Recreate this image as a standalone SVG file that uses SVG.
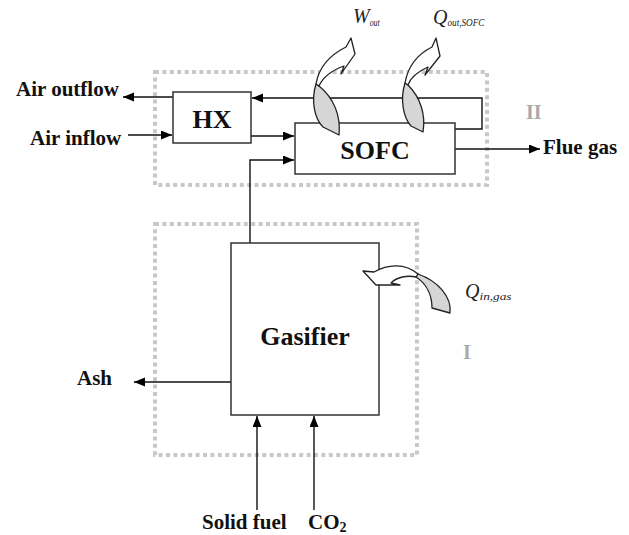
<svg xmlns="http://www.w3.org/2000/svg" width="629" height="535" viewBox="0 0 629 535">
<defs>
<marker id="ah" markerUnits="userSpaceOnUse" markerWidth="12" markerHeight="10" refX="11" refY="4.5" orient="auto">
<path d="M0,0 L11,4.5 L0,9 Z" fill="#000"/>
</marker>
<style>
.box{fill:#fff;stroke:#333;stroke-width:1.5}
.zone{fill:none;stroke:#c8c8c8;stroke-width:4;stroke-dasharray:4 3.4}
.ln{fill:none;stroke:#111;stroke-width:1.4}
.lbl{font-family:"Liberation Serif","Times New Roman",serif;font-weight:bold;font-size:21px;fill:#111}
.big{font-family:"Liberation Serif","Times New Roman",serif;font-weight:bold;font-size:26px;fill:#111}
.zl{font-family:"Liberation Serif","Times New Roman",serif;font-weight:bold;font-size:20px;fill:#aaa}
.it{font-family:"Liberation Serif","Times New Roman",serif;font-style:italic;font-size:20px;fill:#222}
.sub{font-size:11px}
.hw{fill:#fff;stroke:#222;stroke-width:1.3;stroke-linejoin:round}
.hg{fill:#d6d6d6;stroke:#222;stroke-width:1.3;stroke-linejoin:round}
</style>
</defs>
<rect width="629" height="535" fill="#fff"/>
<g id="zone-II"><rect class="zone" x="155" y="72" width="332" height="113"/><text class="zl" x="526" y="119">II</text></g>
<g id="zone-I"><rect class="zone" x="155" y="224" width="262" height="231"/><text class="zl" x="463" y="359">I</text></g>
<g id="connectors">
<path class="ln" d="M173,97 H123" marker-end="url(#ah)"/>
<path class="ln" d="M128,135 H172" marker-end="url(#ah)"/>
<path class="ln" d="M251,136 H294" marker-end="url(#ah)"/>
<path class="ln" d="M250,243 V160 H294" marker-end="url(#ah)"/>
<path class="ln" d="M455,129 H482 V98 H252" marker-end="url(#ah)"/>
<path class="ln" d="M455,149 H540" marker-end="url(#ah)"/>
<path class="ln" d="M231,382 H134" marker-end="url(#ah)"/>
<path class="ln" d="M257,510 V416" marker-end="url(#ah)"/>
<path class="ln" d="M314,510 V416" marker-end="url(#ah)"/>
</g>
<g id="HX"><rect class="box" x="173" y="92" width="78" height="51"/><text class="big" x="212" y="128" text-anchor="middle" font-size="25">HX</text></g>
<g id="SOFC"><rect class="box" x="295" y="123" width="160" height="51"/><text class="big" x="375" y="159" text-anchor="middle">SOFC</text></g>
<g id="Gasifier"><rect class="box" x="231" y="243" width="148" height="172"/><text class="big" x="305" y="345" text-anchor="middle">Gasifier</text></g>
<g id="labels">
<text class="lbl" x="16" y="96">Air outflow</text>
<text class="lbl" x="30" y="145">Air inflow</text>
<text class="lbl" x="543" y="154">Flue gas</text>
<text class="lbl" x="77" y="385">Ash</text>
<text class="lbl" x="202" y="529">Solid fuel</text>
<text class="lbl" x="308" y="529">CO<tspan font-size="14" dy="3">2</tspan></text>
</g>
<g id="W-out">
<path class="hg" d="M316,84 C311,100 314,118 323,127 L339,135 C341,116 334,98 319,86 Z"/>
<path class="hw" d="M316,84 C319,66 330,55 346,47 L351,38 L355,54 L341,74 L344,66 C333,70 323,77 319,86 Z"/>
<text class="it" x="353" y="23">W<tspan class="sub" dy="3" textLength="10" lengthAdjust="spacingAndGlyphs">out</tspan></text>
</g>
<g id="Q-out-SOFC">
<path class="hg" d="M405,83 C400,99 403,117 411,126 L423,132 C426,114 420,97 408,85 Z"/>
<path class="hw" d="M405,83 C408,66 418,54 432,47 L436,38 L440,56 L425,75 L428,67 C419,71 411,76 408,85 Z"/>
<text class="it" x="433" y="24">Q<tspan class="sub" dy="2" textLength="37" lengthAdjust="spacingAndGlyphs">out,SOFC</tspan></text>
</g>
<g id="Q-in-gas">
<path class="hg" d="M418,274 C438,281 452,297 450,313 L432,308 C432,296 427,284 416,277 Z"/>
<path class="hw" d="M418,274 C405,263 388,264 374,272 L363,271 L376,285 L400,285 L391,283 C397,277 407,275 416,277 Z"/>
<text class="it" x="465" y="298">Q<tspan class="sub" dy="2" textLength="32" lengthAdjust="spacingAndGlyphs">in,gas</tspan></text>
</g>
</svg>
